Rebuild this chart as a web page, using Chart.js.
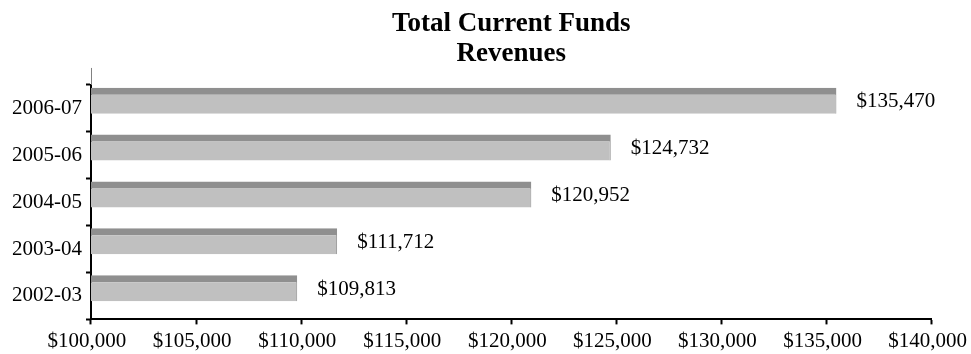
<!DOCTYPE html>
<html>
<head>
<meta charset="utf-8">
<script src="https://cdn.jsdelivr.net/npm/chart.js@4"></script>
<style>
    html, body { margin: 0; padding: 0; background: #fff; }
    #wrap { width: 971px; height: 354px; }
</style>
</head>
<body>
<div id="wrap"><canvas id="revenues"></canvas></div>
<script>
const years = ['2006-07', '2005-06', '2004-05', '2003-04', '2002-03'];
const revenues = [135470, 124732, 120952, 111712, 109813];
// empty second group so the bars sit in the upper part of each band
const spacer = [null, null, null, null, null];
const axisMin = 100000;
const axisMax = 140000;
const axisStep = 5000;

const FONT = "'Liberation Serif', 'Times New Roman', serif";

function money(v) {
    return '$' + Number(v).toLocaleString('en-US');
}

// prints each total just past the end of its bar
const valueLabels = {
    id: 'valueLabels',
    afterDatasetsDraw(chart) {
        let ctx = chart.ctx;
        let meta = chart.getDatasetMeta(0);
        ctx.save();
        ctx.font = '21px ' + FONT;
        ctx.fillStyle = '#000';
        ctx.textAlign = 'left';
        ctx.textBaseline = 'middle';
        meta.data.forEach(function(bar, i) {
            ctx.fillText(money(revenues[i]), bar.x + 20, bar.y + 1);
        });
        ctx.restore();
    }
};

// short thin continuation of the value axis above the plot
const axisStub = {
    id: 'axisStub',
    afterDraw(chart) {
        let ctx = chart.ctx;
        let x = chart.scales.x.left;
        let top = chart.chartArea.top;
        ctx.save();
        ctx.strokeStyle = '#808080';
        ctx.lineWidth = 1;
        ctx.beginPath();
        ctx.moveTo(x + 0.5, top - 17);
        ctx.lineTo(x + 0.5, top);
        ctx.stroke();
        ctx.restore();
    }
};

new Chart(document.getElementById('revenues').getContext('2d'), {
    type: 'bar',
    data: {
        labels: years,
        datasets: [
            {
                label: 'Revenues',
                data: revenues,
                backgroundColor: '#c0c0c0',
                borderColor: '#8f8f8f',
                borderWidth: { top: 7, right: 1, bottom: 0, left: 0 },
                borderSkipped: false,
                categoryPercentage: 0.66,
                barPercentage: 1.68
            },
            {
                label: '',
                data: spacer,
                backgroundColor: 'rgba(0,0,0,0)',
                categoryPercentage: 0.66,
                barPercentage: 1.68
            }
        ]
    },
    options: {
        indexAxis: 'y',
        responsive: true,
        maintainAspectRatio: false,
        animation: false,
        layout: { padding: { left: 8, right: 0, top: 0, bottom: -4 } },
        plugins: {
            legend: { display: false },
            tooltip: { enabled: false },
            title: {
                display: true,
                fullSize: false,
                text: ['Total Current Funds', 'Revenues'],
                color: '#000',
                font: { family: FONT, size: 27, weight: 'bold', lineHeight: 1.11 },
                padding: { top: 9, bottom: 16 }
            }
        },
        scales: {
            x: {
                type: 'linear',
                min: axisMin,
                max: axisMax,
                border: { display: true, color: '#000', width: 2 },
                grid: {
                    drawOnChartArea: false,
                    drawTicks: true,
                    tickLength: 5,
                    tickWidth: 2,
                    tickColor: '#000'
                },
                ticks: {
                    stepSize: axisStep,
                    color: '#000',
                    padding: 0,
                    labelOffset: -4,
                    maxRotation: 0,
                    font: { family: FONT, size: 21, lineHeight: 1.6 },
                    callback: function(v) { return money(v); }
                }
            },
            y: {
                border: { display: true, color: '#000', width: 2 },
                grid: {
                    offset: true,
                    drawOnChartArea: false,
                    drawTicks: true,
                    tickLength: 5,
                    tickWidth: 2,
                    tickColor: '#000'
                },
                ticks: {
                    color: '#000',
                    padding: 4,
                    font: { family: FONT, size: 21 }
                }
            }
        }
    },
    plugins: [valueLabels, axisStub]
});
</script>
</body>
</html>
